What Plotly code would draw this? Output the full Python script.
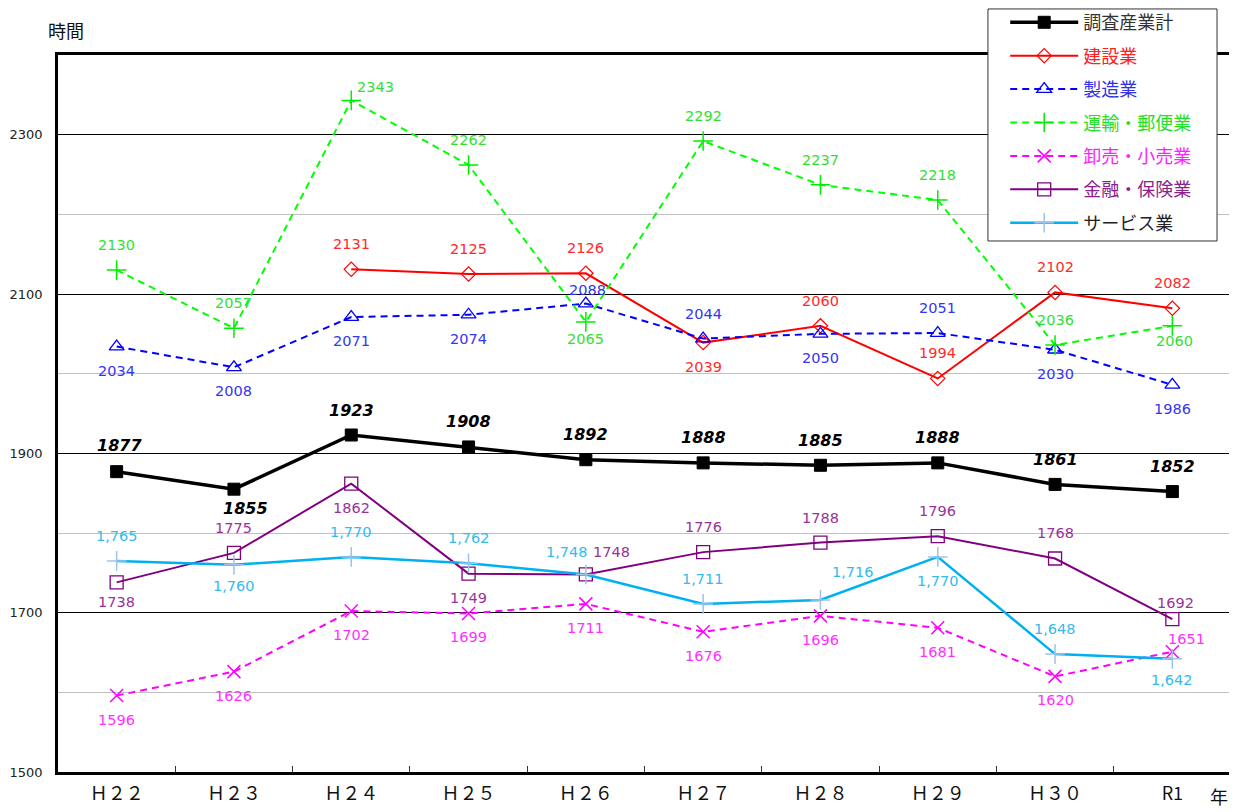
import plotly.graph_objects as go

# ---- data ----
years = ["Ｈ２２", "Ｈ２３", "Ｈ２４", "Ｈ２５", "Ｈ２６", "Ｈ２７", "Ｈ２８", "Ｈ２９", "Ｈ３０", "R1"]
total = [1877, 1855, 1923, 1908, 1892, 1888, 1885, 1888, 1861, 1852]
construction = [None, None, 2131, 2125, 2126, 2039, 2060, 1994, 2102, 2082]
manufacturing = [2034, 2008, 2071, 2074, 2088, 2044, 2050, 2051, 2030, 1986]
transport = [2130, 2057, 2343, 2262, 2065, 2292, 2237, 2218, 2036, 2060]
wholesale = [1596, 1626, 1702, 1699, 1711, 1676, 1696, 1681, 1620, 1651]
finance = [1738, 1775, 1862, 1749, 1748, 1776, 1788, 1796, 1768, 1692]
services = [1765, 1760, 1770, 1762, 1748, 1711, 1716, 1770, 1648, 1642]

y_ticks = [1500, 1700, 1900, 2100, 2300]

# ---- label placement (dx, dy in px) ----
A = (0, -25)
B = (0, 24)
place_total = [(3, -26), (12, 19), A, A, A, A, A, A, A, A]
place_constr = [None, None, A, A, A, B, A, A, A, A]
place_manuf = [B, B, B, B, (2, -14), A, B, A, B, B]
place_trans = [A, A, (24, -13), A, (0, 17), A, A, A, A, (2, 15)]
place_whole = [B, B, B, B, B, B, B, B, B, (14, -13)]
place_fin = [(0, 20), A, B, B, (26, -22), A, A, A, A, (3, -16)]
place_serv = [A, (0, 21), A, A, (-19, -22), A, (33, -28), B, A, (0, 21)]

series = [
    dict(name="調査産業計", y=total, color="#000000", tcolor="#000000", lcolor="#333333", width=3.5, dash="solid",
         symbol="square", msize=12, mcolor="#000000", mline=1, place=place_total, bold=True, fmt="{:d}"),
    dict(name="建設業", y=construction, color="#ff0000", tcolor="#ff2a2a", lcolor="#ff2020", width=2, dash="solid",
         symbol="diamond-open", msize=11, mcolor="#ff0000", mline=1.2, place=place_constr, bold=False, fmt="{:d}"),
    dict(name="製造業", y=manufacturing, color="#0000ff", tcolor="#3535f0", lcolor="#3030e8", width=2, dash="7px,5px",
         symbol="triangle-up-open", msize=13, mcolor="#0000ff", mline=1.3, place=place_manuf, bold=False, fmt="{:d}"),
    dict(name="運輸・郵便業", y=transport, color="#00ff00", tcolor="#33e033", lcolor="#22e022", width=2, dash="7px,5px",
         symbol="cross-thin-open", msize=14, mcolor="#00ee00", mline=1.5, place=place_trans, bold=False, fmt="{:d}"),
    dict(name="卸売・小売業", y=wholesale, color="#ff00ff", tcolor="#ff30ff", lcolor="#ff20ff", width=2, dash="7px,5px",
         symbol="x-thin-open", msize=13, mcolor="#ff00ff", mline=1.5, place=place_whole, bold=False, fmt="{:d}"),
    dict(name="金融・保険業", y=finance, color="#800080", tcolor="#993399", lcolor="#8a208a", width=2, dash="solid",
         symbol="square-open", msize=13, mcolor="#800080", mline=1.3, place=place_fin, bold=False, fmt="{:d}"),
    dict(name="サービス業", y=services, color="#00b0f0", tcolor="#33bbee", lcolor="#222222", width=2.5, dash="solid",
         symbol="cross-thin-open", msize=14, mcolor="#9ec3e6", mline=1.5, place=place_serv, bold=False, fmt="{:,}"),
]

fig = go.Figure()
annotations = []
for i, s in enumerate(series):
    fig.add_trace(go.Scatter(
        x=years, y=s["y"], mode="lines+markers",
        name=f"<span style='color:{s['lcolor']}'>{s['name']}</span>",
        legendgroup=f"g{i}",
        line=dict(color=s["color"], width=s["width"], dash=s["dash"]),
        marker=dict(symbol=s["symbol"], size=s["msize"], color=s["mcolor"],
                    line=dict(color=s["mcolor"], width=s["mline"])),
        connectgaps=False,
    ))
    for x, v, p in zip(years, s["y"], s["place"]):
        if v is None or p is None:
            continue
        txt = s["fmt"].format(v)
        if s["bold"]:
            txt = f"<b><i>{txt}</i></b>"
            font = dict(family="DejaVu Sans", size=16, color=s["tcolor"])
        else:
            font = dict(family="DejaVu Sans", size=14.5, color=s["tcolor"])
        annotations.append(dict(x=x, y=v, xref="x", yref="y", text=txt, showarrow=False,
                                xshift=p[0], yshift=-p[1], font=font))

annotations.append(dict(x=0.0, y=1.0, xref="paper", yref="paper", text="時間", showarrow=False,
                        xshift=8, yshift=10, xanchor="center", yanchor="bottom",
                        font=dict(family="Noto Sans CJK JP", size=18, color="#111111")))
annotations.append(dict(x=1.0, y=0.0, xref="paper", yref="paper", text="年", showarrow=False,
                        xshift=-12, yshift=-9, xanchor="center", yanchor="top",
                        font=dict(family="Noto Sans CJK JP", size=18, color="#111111")))

# legend frame (white box drawn over the plot, legend entries on top)
legend_box = dict(type="rect", xref="paper", yref="paper",
                  x0=0.7928, x1=0.9881, y0=0.7406, y1=1.0642,
                  fillcolor="white", line=dict(color="#333333", width=1), layer="above")

fig.update_layout(
    width=1223, height=800,
    margin=dict(l=50, r=0, t=47, b=36, autoexpand=False),
    paper_bgcolor="white", plot_bgcolor="white",
    annotations=annotations,
    shapes=[legend_box],
    showlegend=True,
    legend=dict(
        x=0.8075, y=1.071, xanchor="left", yanchor="top",
        bgcolor="rgba(0,0,0,0)", borderwidth=0,
        font=dict(family="Noto Sans CJK JP", size=18, color="#000000"),
        itemwidth=68, tracegroupgap=7,
    ),
    xaxis=dict(
        type="category", range=[-0.5, 9.5],
        showline=True, linecolor="black", linewidth=2.5, mirror=True,
        ticks="inside", tickson="boundaries", ticklen=6, tickcolor="#333333", tickwidth=1,
        showgrid=False, zeroline=False,
        tickfont=dict(family="Noto Sans CJK JP", size=18, color="#111111"),
        ticklabelstandoff=4,
    ),
    yaxis=dict(
        range=[1500, 2400], tickvals=y_ticks,
        showline=True, linecolor="black", linewidth=2.5, mirror=True,
        ticks="", showgrid=True, gridcolor="#000000", gridwidth=1, zeroline=False,
        minor=dict(dtick=100, showgrid=True, gridcolor="#c0c0c0", gridwidth=1),
        tickfont=dict(family="DejaVu Sans", size=13, color="#222222"),
        ticklabelstandoff=10,
    ),
)

fig.write_html("out.html")
